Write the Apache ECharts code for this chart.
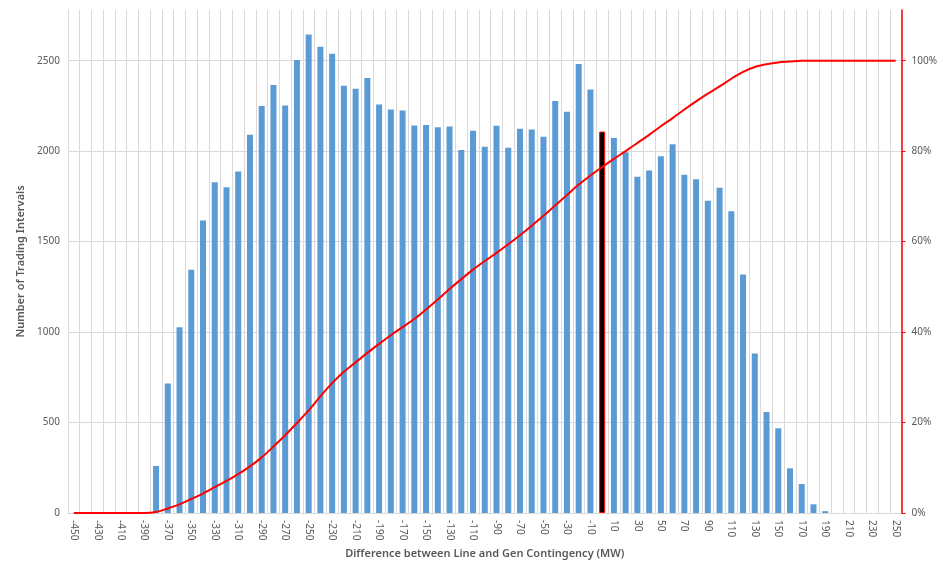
<!DOCTYPE html>
<html>
<head>
<meta charset="utf-8">
<title>Line vs Gen Contingency</title>
<script src="https://cdn.jsdelivr.net/npm/echarts@6/dist/echarts.min.js"></script>
<style>
    html, body { margin: 0; padding: 0; background: #fff; }
    #chart { width: 940px; height: 573px; }
</style>
</head>
<body>
<div id="chart"></div>
<script>
// bins of the difference (MW), -450 .. 250 step 10
var categories = ['-450','-440','-430','-420','-410','-400','-390','-380','-370','-360',
    '-350','-340','-330','-320','-310','-300','-290','-280','-270','-260',
    '-250','-240','-230','-220','-210','-200','-190','-180','-170','-160',
    '-150','-140','-130','-120','-110','-100','-90','-80','-70','-60',
    '-50','-40','-30','-20','-10','0','10','20','30','40',
    '50','60','70','80','90','100','110','120','130','140',
    '150','160','170','180','190','200','210','220','230','240','250'];

// number of trading intervals per bin
var counts = [0, 0, 0, 0, 0, 0, 0, 260, 716, 1026,
    1345, 1616, 1828, 1800, 1888, 2090, 2250, 2366, 2252, 2503,
    2645, 2577, 2538, 2362, 2345, 2404, 2258, 2230, 2224, 2141,
    2145, 2132, 2136, 2006, 2112, 2024, 2140, 2018, 2124, 2120,
    2080, 2277, 2218, 2482, 2341, 2108, 2073, 1994, 1858, 1893,
    1972, 2038, 1869, 1845, 1726, 1797, 1668, 1318, 881, 558,
    468, 247, 160, 48, 10, 0, 0, 0, 0, 0, 0];

// cumulative share (%)
var cumulative = [0, 0, 0, 0, 0, 0, 0, 0.2, 1.0, 1.9,
    3.1, 4.3, 5.7, 7.1, 8.6, 10.3, 12.3, 14.7, 17.2, 19.9,
    22.7, 25.8, 28.7, 31.2, 33.3, 35.4, 37.4, 39.3, 41.1, 42.9,
    45.0, 47.2, 49.5, 51.7, 53.8, 55.7, 57.5, 59.4, 61.4, 63.5,
    65.7, 68.0, 70.3, 72.6, 74.6, 76.5, 78.3, 80.0, 81.8, 83.6,
    85.5, 87.3, 89.2, 91.0, 92.7, 94.3, 96.0, 97.5, 98.6, 99.2,
    99.6, 99.8, 100, 100, 100, 100, 100, 100, 100, 100, 100];

var highlightBin = '0';
var leftTicks = [0, 500, 1000, 1500, 2000, 2500];

(function () {
    var textColor = '#595959';
    var gridColor = '#d9d9d9';
    var font = 'Noto Sans';

    var barData = counts.map(function (v, i) {
        if (categories[i] === highlightBin) {
            return {
                value: v,
                itemStyle: { color: '#000', borderColor: '#ff0000', borderWidth: 1 }
            };
        }
        return v;
    });

    var option = {
        animation: false,
        grid: { left: 68, right: 37, top: 10, bottom: 60 },
        xAxis: {
            type: 'category',
            data: categories,
            boundaryGap: true,
            name: 'Difference between Line and Gen Contingency (MW)',
            nameLocation: 'middle',
            nameGap: 33,
            nameTextStyle: { color: textColor, fontFamily: font, fontSize: 11, fontWeight: 600 },
            axisLine: { show: true, lineStyle: { color: gridColor } },
            axisTick: { show: false },
            axisLabel: {
                interval: 1,
                rotate: -90,
                margin: 7,
                color: textColor,
                fontFamily: font,
                fontSize: 10
            },
            splitLine: { show: true, interval: 0, lineStyle: { color: gridColor, width: 1 } }
        },
        yAxis: [
            {
                type: 'value',
                min: leftTicks[0],
                max: 2780,
                interval: 500,
                name: 'Number of Trading Intervals',
                nameLocation: 'middle',
                nameGap: 40,
                nameTextStyle: { color: textColor, fontFamily: font, fontSize: 11, fontWeight: 600 },
                axisLine: { show: true, lineStyle: { color: gridColor } },
                axisTick: { show: false },
                axisLabel: {
                    color: textColor, fontFamily: font, fontSize: 10, showMaxLabel: false,
                    formatter: function (v) { return String(v); }
                },
                splitLine: { show: true, showMaxLine: false, lineStyle: { color: gridColor } }
            },
            {
                type: 'value',
                min: 0,
                max: 111.2,
                interval: 20,
                position: 'right',
                axisLine: { show: true, lineStyle: { color: '#ff0000', width: 1.5 } },
                axisTick: { show: true, length: 4, lineStyle: { color: '#ff0000' } },
                axisLabel: {
                    color: textColor, fontFamily: font, fontSize: 10, margin: 10,
                    showMaxLabel: false,
                    formatter: function (v) { return v + '%'; }
                },
                splitLine: { show: false }
            }
        ],
        series: [
            {
                name: 'Count',
                type: 'bar',
                data: barData,
                barWidth: 6,
                itemStyle: { color: '#5b9bd5' }
            },
            {
                name: 'Cumulative',
                type: 'line',
                yAxisIndex: 1,
                data: cumulative,
                smooth: 0.3,
                symbol: 'none',
                lineStyle: { color: '#ff0000', width: 2 },
                z: 5
            }
        ]
    };

    var chart = echarts.init(document.getElementById('chart'));
    chart.setOption(option);
})();
</script>
</body>
</html>
